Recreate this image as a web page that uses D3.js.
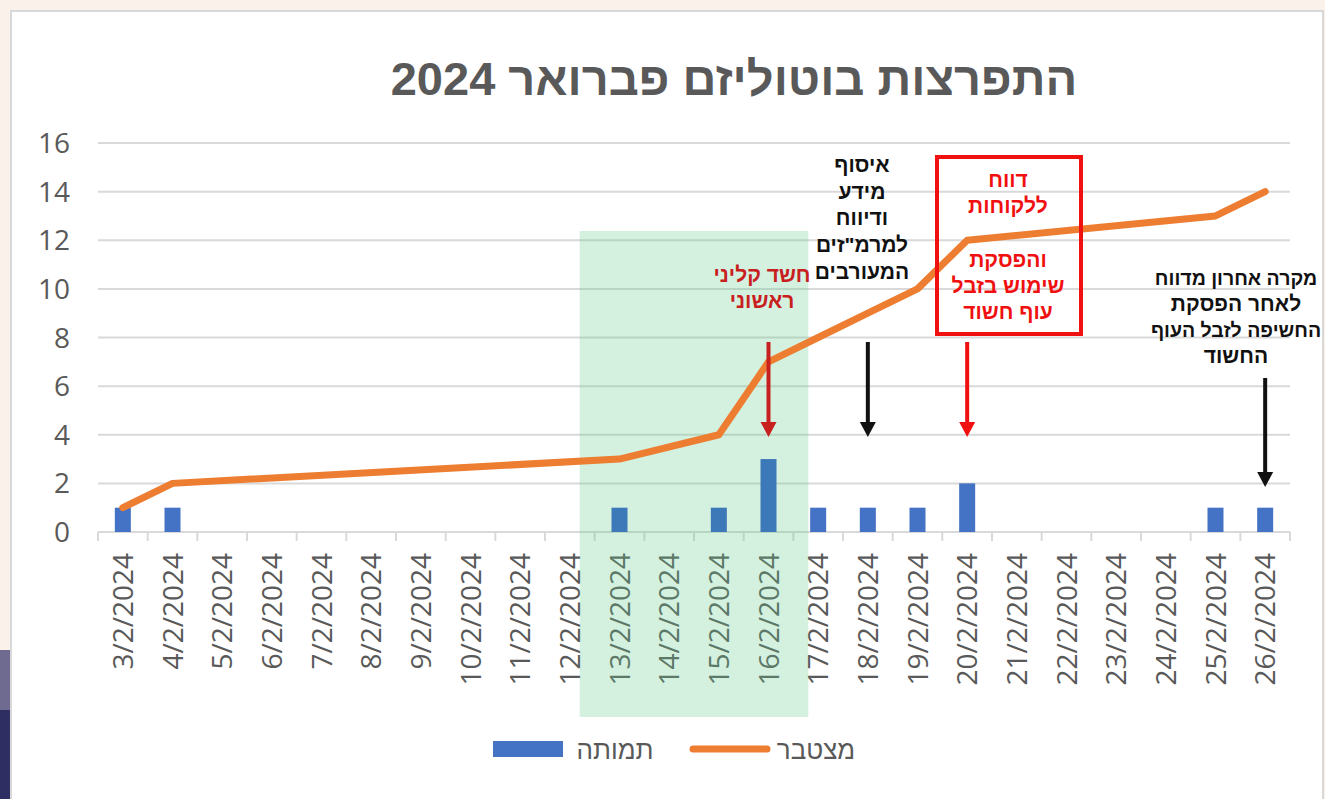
<!DOCTYPE html>
<html lang="he">
<head>
<meta charset="utf-8">
<title>התפרצות בוטוליזם פברואר 2024</title>
<script src="https://d3js.org/d3.v7.min.js"></script>
<style>
  * { margin:0; padding:0; box-sizing:border-box; }
  body { background:#fbf1eb; width:1325px; height:799px; overflow:hidden; }
  svg { display:block; }
  .lbl { font-family:'Open Sans','Noto Sans',sans-serif; fill:#595959; }
  .heb { font-family:'Liberation Sans',Arial,sans-serif; }
</style>
</head>
<body>
<svg id="chart" width="1325" height="799"></svg>
<script>
// ─── Data ───
const dates = ['3/2/2024','4/2/2024','5/2/2024','6/2/2024','7/2/2024','8/2/2024','9/2/2024','10/2/2024',
  '11/2/2024','12/2/2024','13/2/2024','14/2/2024','15/2/2024','16/2/2024','17/2/2024','18/2/2024',
  '19/2/2024','20/2/2024','21/2/2024','22/2/2024','23/2/2024','24/2/2024','25/2/2024','26/2/2024'];
const deaths = [1,1,0,0,0,0,0,0,0,0,1,0,1,3,1,1,1,2,0,0,0,0,1,1];
// cumulative; blanks are connected across (as in the source sheet)
const cumulative = [1,2,null,null,null,null,null,null,null,null,3,null,4,7,8,9,10,12,null,null,null,null,13,14];
const yTicks = [0,2,4,6,8,10,12,14,16];

const title = 'התפרצות בוטוליזם פברואר 2024';
const seriesNames = { bars: 'תמותה', line: 'מצטבר' };

// annotations: date they point to, text lines
const notes = [
  { date: '16/2/2024', lines: ['חשד קליני', 'ראשוני'], color: '#c8201e' },
  { date: '18/2/2024', lines: ['איסוף', 'מידע', 'ודיווח', 'למרמ"זים', 'המעורבים'], color: '#111' },
  { date: '20/2/2024', lines: ['דווח', 'ללקוחות', 'והפסקת', 'שימוש בזבל', 'עוף חשוד'], color: '#f01010' },
  { date: '26/2/2024', lines: ['מקרה אחרון מדווח', 'לאחר הפסקת', 'החשיפה לזבל העוף', 'החשוד'], color: '#111' }
];
const shaded = ['13/2/2024', '16/2/2024'];

// ─── Layout ───
const svg = d3.select('#chart');
const plot = { left: 98, right: 1290, top: 143, bottom: 532 };

const x = d3.scaleBand().domain(dates).range([plot.left, plot.right]).padding(0);
const y = d3.scaleLinear().domain([0, 16]).range([plot.bottom, plot.top]);
const cx = d => x(d) + x.bandwidth() / 2;

// page backdrop
svg.append('rect').attr('width', 1325).attr('height', 799).attr('fill', '#fbf1eb');
svg.append('rect').attr('x', 0).attr('y', 650).attr('width', 11).attr('height', 60).attr('fill', '#6f6b90');
svg.append('rect').attr('x', 0).attr('y', 710).attr('width', 11).attr('height', 89).attr('fill', '#2f2e63');
svg.append('rect').attr('x', 10).attr('y', 10).attr('width', 1314).attr('height', 792)
  .attr('fill', '#d8d8d8');
svg.append('rect').attr('x', 12).attr('y', 12).attr('width', 1310).attr('height', 790)
  .attr('fill', '#fff');

// title
svg.append('text').attr('class', 'heb')
  .attr('x', 734).attr('y', 95)
  .attr('direction', 'rtl').attr('text-anchor', 'middle')
  .attr('font-size', 47).attr('font-weight', 700).attr('fill', '#595959')
  .text(title);

// gridlines
svg.append('g').selectAll('line').data(yTicks).join('line')
  .attr('x1', plot.left).attr('x2', plot.right)
  .attr('y1', d => y(d)).attr('y2', d => y(d))
  .attr('stroke', '#d9d9d9').attr('stroke-width', 2);

// y labels
svg.append('g').selectAll('text').data(yTicks).join('text')
  .attr('class', 'lbl')
  .attr('x', 70).attr('y', d => y(d)).attr('dy', '0.36em')
  .attr('text-anchor', 'end').attr('font-size', 28)
  .text(d => d);

// x axis ticks
const edges = dates.map(d => x(d)).concat([plot.right]);
svg.append('g').selectAll('line').data(edges).join('line')
  .attr('x1', d => d).attr('x2', d => d)
  .attr('y1', plot.bottom).attr('y2', plot.bottom + 9)
  .attr('stroke', '#d9d9d9').attr('stroke-width', 2);

// x labels
svg.append('g').selectAll('text').data(dates).join('text')
  .attr('class', 'lbl')
  .attr('transform', d => `translate(${cx(d)},553) rotate(-90)`)
  .attr('dy', '0.36em').attr('text-anchor', 'end').attr('font-size', 28)
  .text(d => d);

// shaded period (over the gridlines, under the series)
const s0 = dates.indexOf(shaded[0]), s1 = dates.indexOf(shaded[1]);
svg.append('rect')
  .attr('x', x(shaded[0]) - 15).attr('width', x(shaded[1]) + x.bandwidth() + 15 - x(shaded[0]) + 15)
  .attr('y', 231).attr('height', 486)
  .attr('fill', 'rgb(100,200,140)').attr('opacity', 0.28);

// bars (the ones inside the shaded period look a bit tinted)
const barW = 16;
svg.append('g').selectAll('rect').data(dates.map((d, i) => ({ d, i, v: deaths[i] })).filter(o => o.v > 0))
  .join('rect')
  .attr('x', o => cx(o.d) - barW / 2).attr('width', barW)
  .attr('y', o => y(o.v)).attr('height', o => y(0) - y(o.v))
  .attr('fill', o => (o.i >= s0 && o.i <= s1) ? '#3d78b8' : '#4472c4');

// cumulative line
const pts = dates.map((d, i) => ({ d, v: cumulative[i] })).filter(o => o.v !== null);
svg.append('path').datum(pts)
  .attr('d', d3.line().x(o => cx(o.d)).y(o => y(o.v)))
  .attr('fill', 'none').attr('stroke', '#ed7d31').attr('stroke-width', 7)
  .attr('stroke-linejoin', 'round').attr('stroke-linecap', 'round');

// annotations
function arrow(xp, y1, y2, color) {
  svg.append('line').attr('x1', xp).attr('x2', xp).attr('y1', y1).attr('y2', y2 - 12)
    .attr('stroke', color).attr('stroke-width', 4);
  svg.append('path')
    .attr('d', `M${xp - 8},${y2 - 15} L${xp + 8},${y2 - 15} L${xp},${y2} Z`)
    .attr('fill', color);
}
function lines(arr, xc, y0, step, color, size) {
  const g = svg.append('g');
  arr.forEach((t, i) => {
    g.append('text').attr('class', 'heb')
      .attr('x', xc).attr('y', y0 + i * step)
      .attr('direction', 'rtl').attr('text-anchor', 'middle')
      .attr('font-size', size ? size(t) : 21).attr('font-weight', 700).attr('fill', color)
      .text(t);
  });
}

const n0 = notes[0], n1 = notes[1], n2 = notes[2], n3 = notes[3];
lines(n0.lines, 762, 282, 26, n0.color);
arrow(cx(n0.date), 342, 437, n0.color);

lines(n1.lines, 862, 172, 26.7, n1.color);
arrow(cx(n1.date), 342, 437, n1.color);

svg.append('rect').attr('x', 937).attr('y', 157).attr('width', 144).attr('height', 177)
  .attr('fill', 'none').attr('stroke', '#f01010').attr('stroke-width', 4);
lines(n2.lines.slice(0, 2), 1008, 187, 26, n2.color);
lines(n2.lines.slice(2), 1008, 267, 26, n2.color);
arrow(cx(n2.date), 342, 437, n2.color);

// longest line is squeezed a little so it stays inside the page
lines(n3.lines, 1236, 285, 26, n3.color, t => t.length > 15 ? 19.5 : 21);
arrow(cx(n3.date), 378, 487, n3.color);

// legend
svg.append('rect').attr('x', 493).attr('y', 741).attr('width', 70).attr('height', 16).attr('fill', '#4472c4');
svg.append('text').attr('class', 'heb').attr('x', 615).attr('y', 750).attr('dy', '0.35em')
  .attr('direction', 'rtl').attr('text-anchor', 'middle')
  .attr('font-size', 26).attr('fill', '#595959').text(seriesNames.bars);
svg.append('line').attr('x1', 693).attr('x2', 767).attr('y1', 749).attr('y2', 749)
  .attr('stroke', '#ed7d31').attr('stroke-width', 7).attr('stroke-linecap', 'round');
svg.append('text').attr('class', 'heb').attr('x', 816).attr('y', 750).attr('dy', '0.35em')
  .attr('direction', 'rtl').attr('text-anchor', 'middle')
  .attr('font-size', 26).attr('fill', '#595959').text(seriesNames.line);
</script>
</body>
</html>
